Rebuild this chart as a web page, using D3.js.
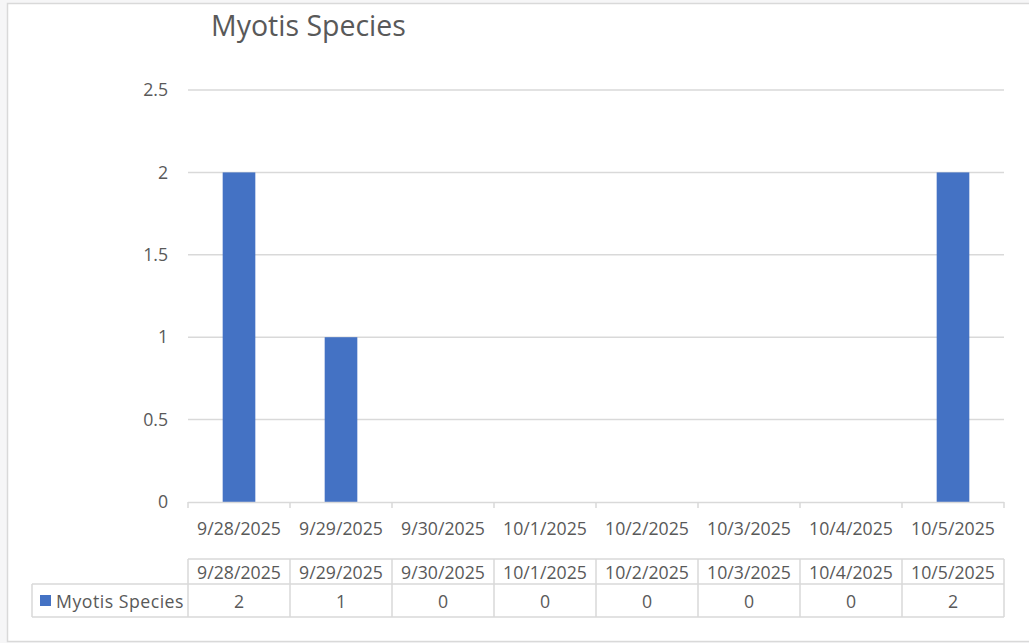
<!DOCTYPE html>
<html>
<head>
<meta charset="utf-8">
<script src="https://cdn.jsdelivr.net/npm/d3@7"></script>
<style>
  body { margin: 0; background: #f6f6f7; }
  text { font-family: "Open Sans", sans-serif; fill: #595959; }
</style>
</head>
<body>
<div id="chart"></div>
<script>
// Data
var dates = ["9/28/2025", "9/29/2025", "9/30/2025", "10/1/2025", "10/2/2025", "10/3/2025", "10/4/2025", "10/5/2025"];
var counts = [2, 1, 0, 0, 0, 0, 0, 2];
var yTicks = [0, 0.5, 1, 1.5, 2, 2.5];
var seriesName = "Myotis Species";

var svgWidth = 1029;
var svgHeight = 643;

var plot = { left: 188, right: 1004, top: 90, bottom: 502 };
var labelSize = "17.7px";

var svg = d3.select("#chart")
  .append("svg")
  .attr("width", svgWidth)
  .attr("height", svgHeight);

// chart frame
svg.append("rect")
  .attr("x", 7.5).attr("y", 3.5)
  .attr("width", 1040).attr("height", 638)
  .attr("fill", "white")
  .attr("stroke", "#d9d9d9")
  .attr("stroke-width", 1.5);

var x = d3.scaleBand()
  .domain(dates)
  .range([plot.left, plot.right])
  .paddingInner(0.68)
  .paddingOuter(0.34);

var xCat = d3.scaleBand()
  .domain(dates)
  .range([plot.left, plot.right]);

var y = d3.scaleLinear()
  .domain([0, 2.5])
  .range([plot.bottom, plot.top]);

// title
svg.append("text")
  .attr("x", 211)
  .attr("y", 36)
  .style("font-size", "28.5px")
  .text(seriesName);

// gridlines
svg.append("g")
  .selectAll("line")
  .data(yTicks.filter(function(d){ return d > 0; }))
  .enter()
  .append("line")
  .attr("x1", plot.left)
  .attr("x2", plot.right)
  .attr("y1", function(d){ return y(d); })
  .attr("y2", function(d){ return y(d); })
  .attr("stroke", "#d9d9d9")
  .attr("stroke-width", 1.5);

// y labels
var yAxis = d3.axisLeft(y)
  .tickValues(yTicks)
  .tickSize(0)
  .tickPadding(20)
  .tickFormat(function(d){ return d; });

var yG = svg.append("g")
  .attr("transform", "translate(" + plot.left + ",0)")
  .call(yAxis);
yG.select(".domain").remove();
yG.selectAll("text")
  .style("font-size", labelSize)
  .style("font-family", "'Open Sans', sans-serif")
  .attr("fill", "#595959");

// bars
svg.append("g")
  .selectAll("rect")
  .data(counts)
  .enter()
  .append("rect")
  .attr("x", function(d, i){ return x(dates[i]); })
  .attr("y", function(d){ return y(d); })
  .attr("width", x.bandwidth())
  .attr("height", function(d){ return y(0) - y(d); })
  .attr("fill", "#4472c4");

// x axis line and ticks
var axisColor = "#d9d9d9";
svg.append("line")
  .attr("x1", plot.left).attr("x2", plot.right)
  .attr("y1", plot.bottom + 0.5).attr("y2", plot.bottom + 0.5)
  .attr("stroke", axisColor).attr("stroke-width", 1.5);

var bounds = dates.map(function(d){ return xCat(d); }).concat([plot.right]);
svg.append("g")
  .selectAll("line")
  .data(bounds)
  .enter()
  .append("line")
  .attr("x1", function(d){ return d; })
  .attr("x2", function(d){ return d; })
  .attr("y1", plot.bottom)
  .attr("y2", plot.bottom + 6)
  .attr("stroke", axisColor).attr("stroke-width", 1.5);

// x labels
svg.append("g")
  .selectAll("text")
  .data(dates)
  .enter()
  .append("text")
  .attr("x", function(d){ return xCat(d) + xCat.bandwidth() / 2; })
  .attr("y", 535)
  .attr("text-anchor", "middle")
  .style("font-size", labelSize)
  .text(function(d){ return d; });

// data table
var rowTop = 559, rowMid = 584, rowBot = 617, legLeft = 32;
var table = svg.append("g")
  .attr("stroke", axisColor)
  .attr("stroke-width", 1.5);

table.append("line").attr("x1", plot.left).attr("x2", plot.right).attr("y1", rowTop).attr("y2", rowTop);
table.append("line").attr("x1", legLeft).attr("x2", plot.right).attr("y1", rowMid).attr("y2", rowMid);
table.append("line").attr("x1", legLeft).attr("x2", plot.right).attr("y1", rowBot).attr("y2", rowBot);
table.append("line").attr("x1", legLeft).attr("x2", legLeft).attr("y1", rowMid).attr("y2", rowBot);
table.selectAll("line.v")
  .data(bounds)
  .enter()
  .append("line")
  .attr("class", "v")
  .attr("x1", function(d){ return d; })
  .attr("x2", function(d){ return d; })
  .attr("y1", rowTop)
  .attr("y2", rowBot);

svg.append("g")
  .selectAll("text")
  .data(dates)
  .enter()
  .append("text")
  .attr("x", function(d){ return xCat(d) + xCat.bandwidth() / 2; })
  .attr("y", 579)
  .attr("text-anchor", "middle")
  .style("font-size", labelSize)
  .text(function(d){ return d; });

svg.append("g")
  .selectAll("text")
  .data(counts)
  .enter()
  .append("text")
  .attr("x", function(d, i){ return xCat(dates[i]) + xCat.bandwidth() / 2; })
  .attr("y", 608)
  .attr("text-anchor", "middle")
  .style("font-size", labelSize)
  .text(function(d){ return d; });

// legend key
svg.append("rect")
  .attr("x", 40).attr("y", 595)
  .attr("width", 11).attr("height", 11)
  .attr("fill", "#4472c4");
svg.append("text")
  .attr("x", 56).attr("y", 608)
  .style("font-size", labelSize)
  .style("letter-spacing", "0.5px")
  .text(seriesName);
</script>
</body>
</html>
